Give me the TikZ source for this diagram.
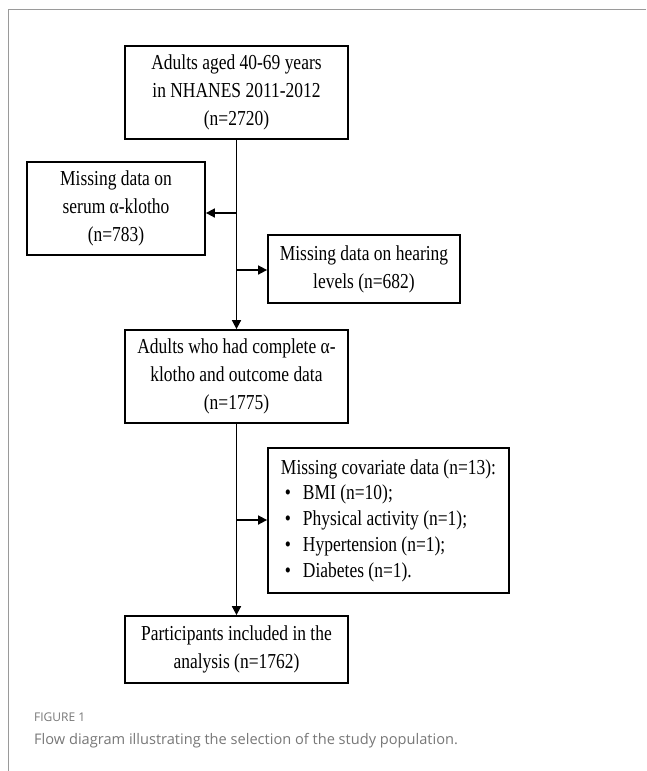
\documentclass[tikz,border=0pt]{standalone}
\usepackage{fontspec}
\setmainfont{Liberation Serif}[FakeStretch=0.82]
\newfontfamily\capfont{Open Sans}
\usetikzlibrary{arrows.meta}
\definecolor{framegray}{HTML}{9A9A9A}
\definecolor{capgray}{HTML}{777777}
\newcommand{\myboxfont}{\fontsize{21.3}{28}\selectfont}
\newcommand{\mylistfont}{\fontsize{21.3}{25.7}\selectfont}
\tikzset{
  box/.style={draw=black, line width=1.8pt, inner sep=0pt, align=center,
    font=\myboxfont},
  conn/.style={line width=1.7pt, -{Triangle[length=9pt,width=9pt]}},
}
\begin{document}
\begin{tikzpicture}[x=1pt,y=-1pt]
\useasboundingbox (0,0) rectangle (646,771);
\draw[framegray, line width=1.8pt] (646,9.5) -- (8.5,9.5) -- (8.5,771);
\node[box, minimum width=223pt, minimum height=93pt] (b1) at (236.5,92.5)
  {Adults aged 40-69 years\\in NHANES 2011-2012\\(n=2720)};
\node[box, minimum width=178pt, minimum height=93pt] (b2) at (116,208.5)
  {Missing data on\\serum α-klotho\\(n=783)};
\node[box, minimum width=192pt, minimum height=68pt] (b3) at (364,269)
  {Missing data on hearing\\levels (n=682)};
\node[box, minimum width=223pt, minimum height=93pt] (b4) at (236.5,376.5)
  {Adults who had complete α-\\klotho and outcome data\\(n=1775)};
\node[box, minimum width=241pt, minimum height=145pt, align=left,
  font=\mylistfont] (b5) at (388.5,520.5)
  {Missing covariate data (n=13):\\
   \hspace*{4pt}\makebox[18pt][l]{\textbullet}BMI (n=10);\\
   \hspace*{4pt}\makebox[18pt][l]{\textbullet}Physical activity (n=1);\\
   \hspace*{4pt}\makebox[18pt][l]{\textbullet}Hypertension (n=1);\\
   \hspace*{4pt}\makebox[18pt][l]{\textbullet}Diabetes (n=1).};
\node[box, minimum width=223pt, minimum height=67pt] (b6) at (236.5,649.5)
  {Participants included in the\\analysis (n=1762)};
\coordinate (j1) at (236.5,213);
\coordinate (j2) at (236.5,270);
\coordinate (j3) at (236.5,520);
\draw[conn] (b1.south) -- (b4.north);
\draw[conn] (j1) -- (j1 -| b2.east);
\draw[conn] (j2) -- (j2 -| b3.west);
\draw[conn] (b4.south) -- (b6.north);
\draw[conn] (j3) -- (j3 -| b5.west);
\node[anchor=west, text=capgray, font=\capfont\fontsize{12}{14}\selectfont, inner sep=0pt] (cap1) at (34,717) {FIGURE 1};
\node[anchor=west, text=capgray, font=\capfont\fontsize{14.6}{17}\selectfont, inner sep=0pt] (cap2) at (34,741) {Flow diagram illustrating the selection of the study population.};
\end{tikzpicture}
\end{document}
